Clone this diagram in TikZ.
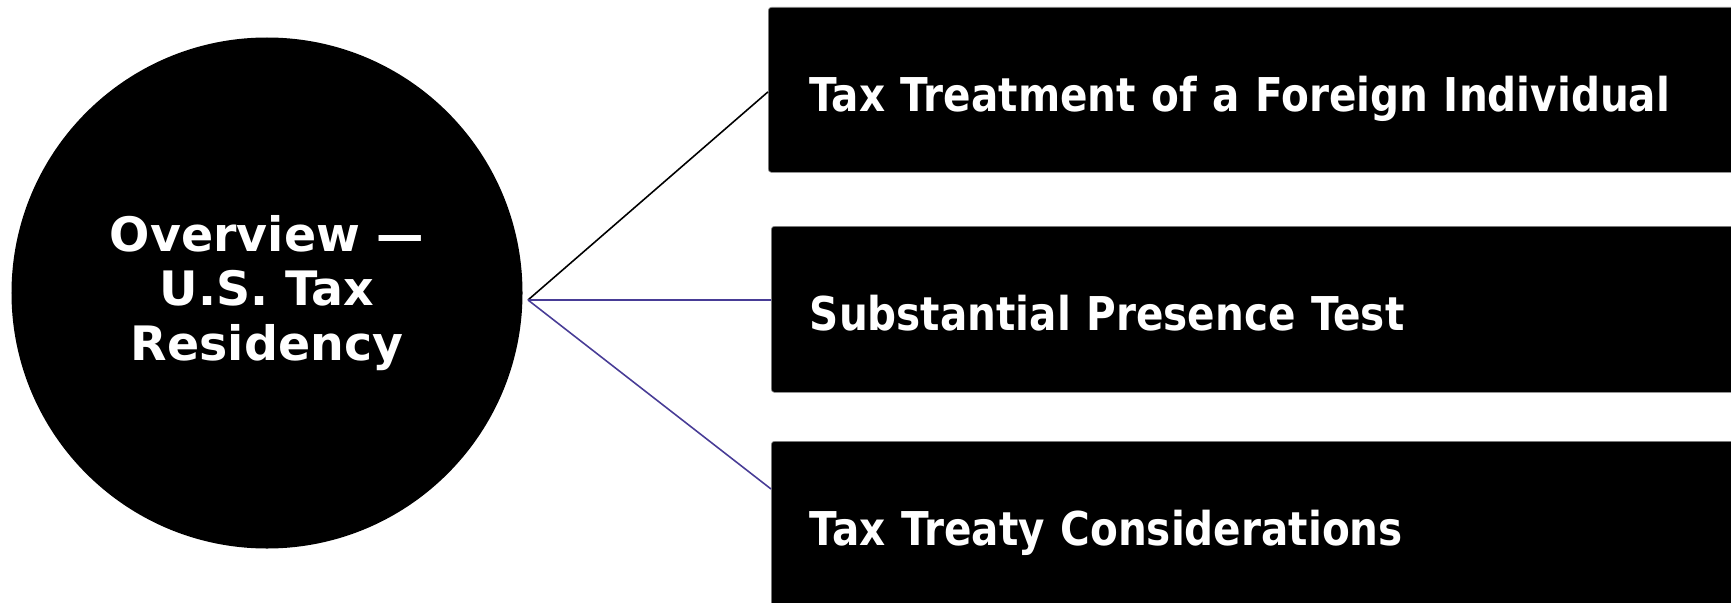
\documentclass[tikz,border=0pt]{standalone}
\usepackage{fontspec}
\setmainfont{DejaVu Sans}[FakeStretch=0.87]
\newfontfamily\hubfont{DejaVu Sans}
\usepackage{tikz}
\usetikzlibrary{positioning}

\definecolor{linkpurple}{RGB}{72,60,150}

\begin{document}
\begin{tikzpicture}[
    topicbox/.style={draw=black!45, line width=0.4pt, fill=black, rounded corners=0.06cm, anchor=north west,
        minimum width=19.84cm, text width=18.2cm, align=left, inner xsep=0.75cm,
        text height=0.86cm, text depth=0cm, text=white,
        font=\fontsize{26.5pt}{31pt}\selectfont\bfseries},
    hubcircle/.style={circle, fill=black, minimum size=10.22cm, align=center, text=white,
        font=\hubfont\fontsize{27pt}{31pt}\selectfont\bfseries},
    link/.style={line width=0.9pt}]

        % Frame
        \useasboundingbox (0,0) rectangle (34.62,-12.04);
        \clip (0,0) rectangle (34.62,-12.04);

        % Centre circle
        \node at (5.34,-5.86) [hubcircle] (hub) {Overview —\\U.S. Tax\\Residency};
        \coordinate (hubpt) at (10.56,-6.00);

        % Topic boxes
        \node at (15.36,-0.14) [topicbox, minimum height=3.3cm] (treatment) {Tax Treatment of a Foreign Individual};
        \node at (15.42,-4.52) [topicbox, minimum height=3.32cm, text width=18.3cm, inner xsep=0.72cm] (presence) {Substantial Presence Test};
        \node at (15.42,-8.82) [topicbox, minimum height=3.3cm, text width=18.3cm, inner xsep=0.72cm] (treaty) {Tax Treaty Considerations};

        % Links
        \draw[link, black] (hubpt) -- ([yshift=-0.04cm]treatment.west);
        \draw[link, linkpurple] (hubpt) -- ([yshift=-1.48cm]presence.north west);
        \draw[link, linkpurple] (hubpt) -- ([yshift=-0.96cm]treaty.north west);

\end{tikzpicture}
\end{document}
